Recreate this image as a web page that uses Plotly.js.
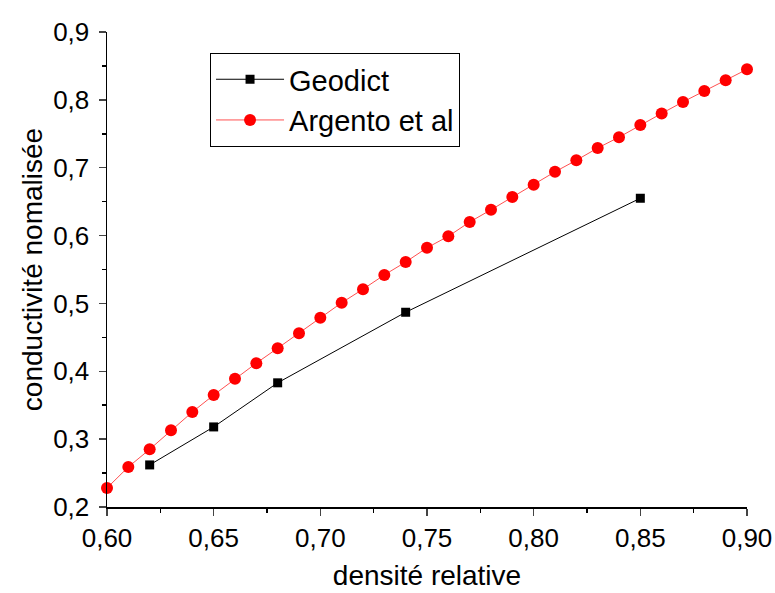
<!DOCTYPE html>
<html>
<head>
<meta charset="utf-8">
<script src="https://cdn.plot.ly/plotly-3.0.1.min.js"></script>
<style>html,body{margin:0;padding:0;background:#fff;}#chart{width:775px;height:593px;}</style>
</head>
<body>
<div id="chart"></div>
<script>
const geodictX = [0.62, 0.65, 0.68, 0.74, 0.85];
const geodictY = [0.262, 0.318, 0.383, 0.487, 0.655];

const argentoX = [0.60,0.61,0.62,0.63,0.64,0.65,0.66,0.67,0.68,0.69,0.70,0.71,0.72,0.73,0.74,0.75,0.76,0.77,0.78,0.79,0.80,0.81,0.82,0.83,0.84,0.85,0.86,0.87,0.88,0.89,0.90];
const argentoY = [0.228,0.259,0.285,0.313,0.340,0.365,0.389,0.412,0.434,0.456,0.479,0.501,0.521,0.542,0.561,0.582,0.599,0.620,0.638,0.657,0.675,0.694,0.711,0.729,0.745,0.763,0.780,0.797,0.813,0.829,0.845];

const xTicks = [0.60,0.65,0.70,0.75,0.80,0.85,0.90];
const yTicks = [0.2,0.3,0.4,0.5,0.6,0.7,0.8,0.9];

const font = "Liberation Sans, Arial, sans-serif";

const traces = [
  {x: geodictX, y: geodictY, name: 'Geodict', mode: 'lines+markers', type: 'scatter',
   line: {color: '#000000', width: 1}, marker: {symbol: 'square', size: 9, color: '#000000'}, cliponaxis: false},
  {x: argentoX, y: argentoY, name: 'Argento et al', mode: 'lines+markers', type: 'scatter',
   line: {color: '#ff5050', width: 1}, marker: {symbol: 'circle', size: 12, color: '#ff0000'}, cliponaxis: false}
];

const layout = {
  width: 775, height: 593,
  margin: {l: 107, r: 28, t: 32, b: 86},
  paper_bgcolor: '#fff', plot_bgcolor: '#fff',
  separators: ',.',
  font: {family: font, size: 26, color: '#000'},
  showlegend: true,
  legend: {x: 0.161, y: 0.956, xanchor: 'left', yanchor: 'top', bgcolor: '#fff',
           bordercolor: '#000', borderwidth: 1, font: {family: font, size: 29, color: '#000'},
           tracegroupgap: 0, itemwidth: 68},
  xaxis: {range: [0.60, 0.90], tickvals: xTicks, tickformat: '.2f', ticks: 'outside', ticklen: 7, tickwidth: 1.5,
          showline: true, linecolor: '#000', linewidth: 1.5, showgrid: false, zeroline: false,
          tickfont: {family: font, size: 26},
          minor: {dtick: 0.025, tick0: 0.6, ticks: 'outside', ticklen: 4, tickwidth: 1.5, tickcolor: '#000', showgrid: false},
          title: {text: 'densité relative', font: {family: font, size: 28}, standoff: 13}},
  yaxis: {range: [0.2, 0.9], tickvals: yTicks, tickformat: '.1f', ticks: 'outside', ticklen: 7, tickwidth: 1.5,
          ticklabelstandoff: 4,
          showline: true, linecolor: '#000', linewidth: 1.5, showgrid: false, zeroline: false,
          tickfont: {family: font, size: 26},
          minor: {dtick: 0.05, tick0: 0.2, ticks: 'outside', ticklen: 4, tickwidth: 1.5, tickcolor: '#000', showgrid: false},
          title: {text: 'conductivité nomalisée', font: {family: font, size: 28}, standoff: 2}}
};

Plotly.newPlot('chart', traces, layout, {displayModeBar: false, staticPlot: true});
</script>
</body>
</html>
